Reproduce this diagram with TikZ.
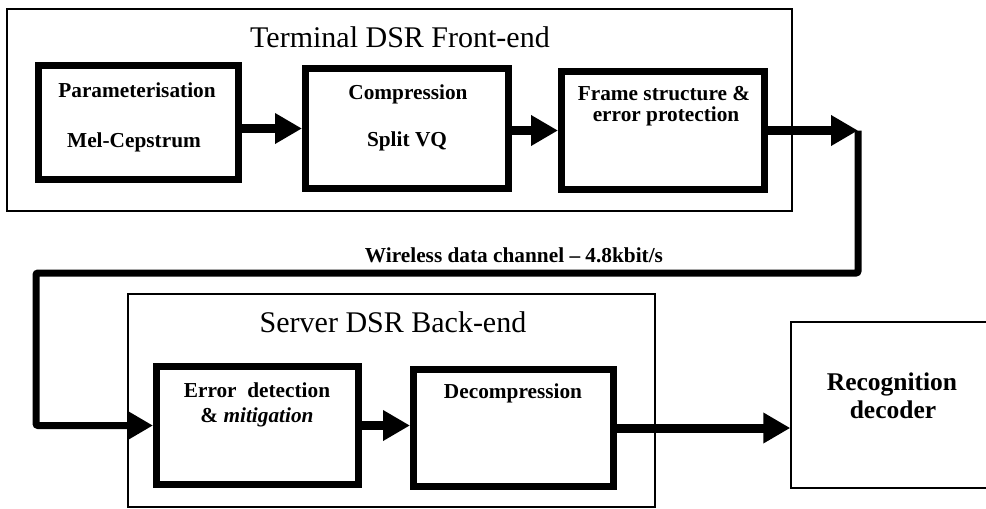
\documentclass[tikz,border=0pt]{standalone}
\usepackage{fontspec}
\setmainfont{Liberation Serif}
\usetikzlibrary{arrows.meta,calc}
\tikzset{
  group/.style={draw, line width=1.4pt, inner sep=0pt},
  stage/.style={draw, line width=7pt, inner sep=0pt},
  head/.style={font=\fontsize{30}{36}\selectfont, anchor=base, inner sep=0pt},
  lbl/.style={font=\bfseries\fontsize{21.3}{25}\selectfont, anchor=base, inner sep=0pt},
  biglbl/.style={font=\bfseries\fontsize{25.5}{30}\selectfont, anchor=base, inner sep=0pt},
  flow/.style={line width=9pt, -{Triangle[length=27pt,width=29pt]}},
  wire/.style={line width=7pt, rounded corners=2pt, -{Triangle[length=26pt,width=28pt]}}
}
\begin{document}
\begin{tikzpicture}[x=1pt, y=-1pt]
\clip (0,0) rectangle (986,509);
\fill[white] (0,0) rectangle (986,509);

% group frames
\node[group, minimum width=785pt, minimum height=202pt] (term) at (399.5,110) {};
\node[group, minimum width=527pt, minimum height=213pt] (serv) at (391.5,400.5) {};
\node[group, minimum width=209pt, minimum height=166pt] (rec) at (895.5,405) {};

% processing stages
\node[stage, minimum width=200pt, minimum height=114pt] (b1) at (138.5,122.5) {};
\node[stage, minimum width=203pt, minimum height=120pt] (b2) at (407,128.5) {};
\node[stage, minimum width=203pt, minimum height=118pt] (b3) at (663,130.5) {};
\node[stage, minimum width=202pt, minimum height=118pt] (b4) at (257.5,425.5) {};
\node[stage, minimum width=200pt, minimum height=117pt] (b5) at (513.5,428) {};

% titles and labels
\node[head] (tt) at (400,47) {Terminal DSR Front-end};
\node[head] (st) at (393,332) {Server DSR Back-end};
\node[lbl] (t1a) at (137,97) {Parameterisation};
\node[lbl] (t1b) at (134,147) {Mel-Cepstrum};
\node[lbl] (t2a) at (408,99) {Compression};
\node[lbl] (t2b) at (407,146) {Split VQ};
\node[lbl] (t3a) at (664,100) {Frame structure \&};
\node[lbl] (t3b) at (666,121) {error protection};
\node[lbl] (t4a) at (257,397) {Error\ \ detection};
\node[lbl] (t4b) at (257,422) {\& \textit{mitigation}};
\node[lbl] (t5) at (513,398) {Decompression};
\node[lbl] (chan) at (514,262) {Wireless data channel -- 4.8kbit/s};
\node[biglbl] (r1) at (892,390) {Recognition};
\node[biglbl] (r2) at (893,418) {decoder};

% channel route
\coordinate (ch) at (858,130.5);
\coordinate (wr) at (858,273);
\coordinate (wl) at (36,273);

% connectors
\draw[flow] (b1.east |- b2.west) -- (b2.west);
\draw[flow] (b2.east |- b3.west) -- (b3.west);
\draw[flow] (b3.east) -- (ch);
\draw[wire] (ch) -- (wr) -- (wl) |- (b4.west);
\draw[flow] (b4.east) -- (b4.east -| b5.west);
\draw[flow] (b5.east) -- (b5.east -| rec.west);
\end{tikzpicture}
\end{document}
